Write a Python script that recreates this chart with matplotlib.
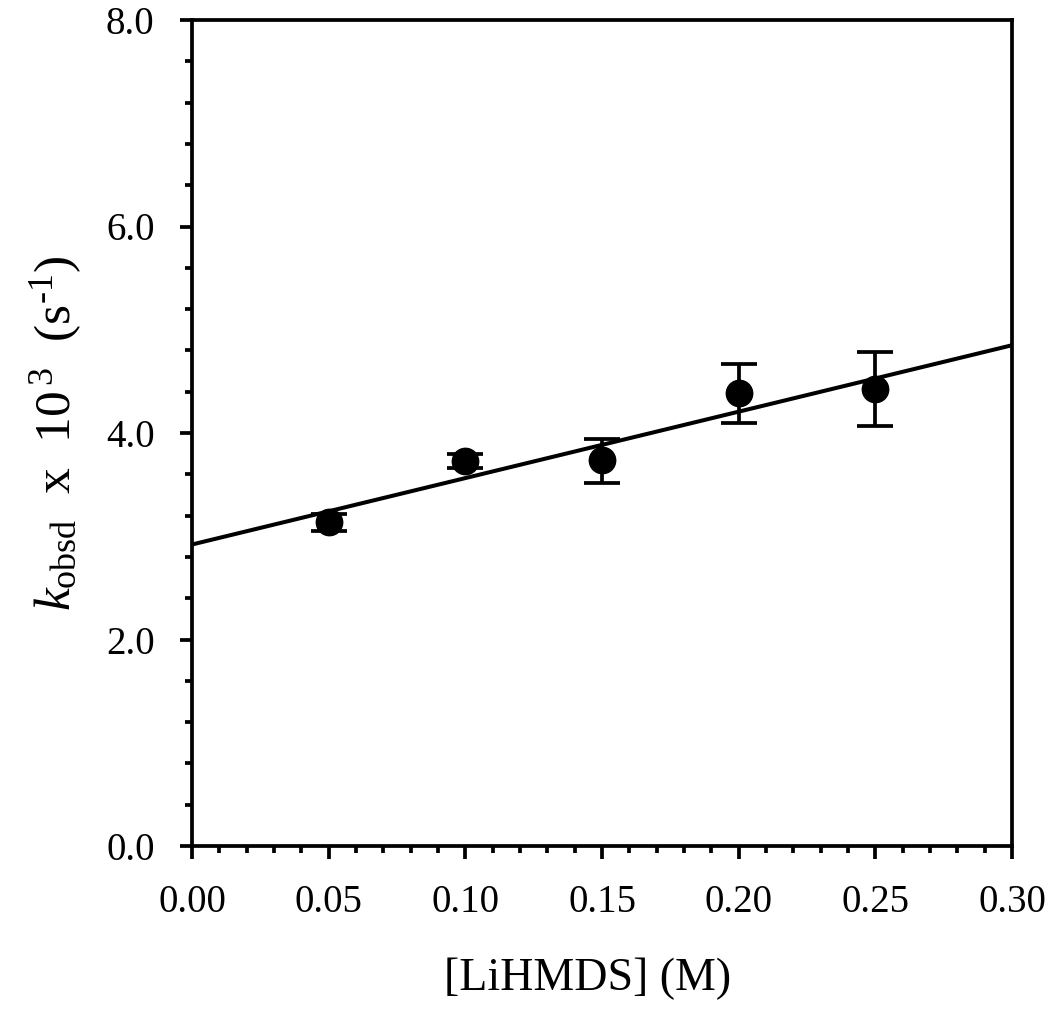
import matplotlib
matplotlib.use("Agg")
import matplotlib.pyplot as plt
from matplotlib.ticker import MultipleLocator, FormatStrFormatter

plt.rcParams['font.family'] = ['Liberation Serif', 'DejaVu Serif']
plt.rcParams['mathtext.fontset'] = 'custom'
plt.rcParams['mathtext.rm'] = 'Liberation Serif'
plt.rcParams['mathtext.it'] = 'Liberation Serif:italic'

# data
conc = [0.05, 0.10, 0.15, 0.20, 0.25]
k_obsd = [3.14, 3.73, 3.74, 4.39, 4.43]
err_low = [0.09, 0.07, 0.22, 0.29, 0.36]
err_high = [0.08, 0.07, 0.20, 0.28, 0.35]
fit_x = [0.0, 0.30]
fit_y = [2.92, 4.85]
x_label = '[LiHMDS] (M)'
y_label = r'$k_{\mathrm{obsd}}$  x  10$^{\,3}$  (s$^{\mathrm{‐1}}$)'

fig = plt.figure(figsize=(10.5, 10.19), dpi=100)
ax = fig.add_axes([192/1050, 1-846/1019, (1012-192)/1050, (846-20)/1019])

ax.plot(fit_x, fit_y, color='black', lw=2.9, zorder=2)
ax.errorbar(conc, k_obsd, yerr=[err_low, err_high], fmt='o', color='black',
            ms=19, elinewidth=2.7, capsize=13, capthick=2.7, zorder=3)

ax.set_xlim(0, 0.30)
ax.set_ylim(0, 8.0)
ax.xaxis.set_major_locator(MultipleLocator(0.05))
ax.xaxis.set_minor_locator(MultipleLocator(0.01))
ax.yaxis.set_major_locator(MultipleLocator(2.0))
ax.yaxis.set_minor_locator(MultipleLocator(0.4))
ax.xaxis.set_major_formatter(FormatStrFormatter('%.2f'))
ax.yaxis.set_major_formatter(FormatStrFormatter('%.1f'))

ax.tick_params(which='both', direction='out', top=False, right=False, width=2.7, labelsize=28)
ax.tick_params(which='major', length=9, pad=18)
ax.tick_params(which='minor', length=5)
for s in ax.spines.values():
    s.set_linewidth(2.7)

ax.set_xlabel(x_label, fontsize=33)
ax.xaxis.set_label_coords(0.482, -0.135)
ax.set_ylabel(y_label, fontsize=37, labelpad=16)

fig.savefig('out.png', dpi=100)
